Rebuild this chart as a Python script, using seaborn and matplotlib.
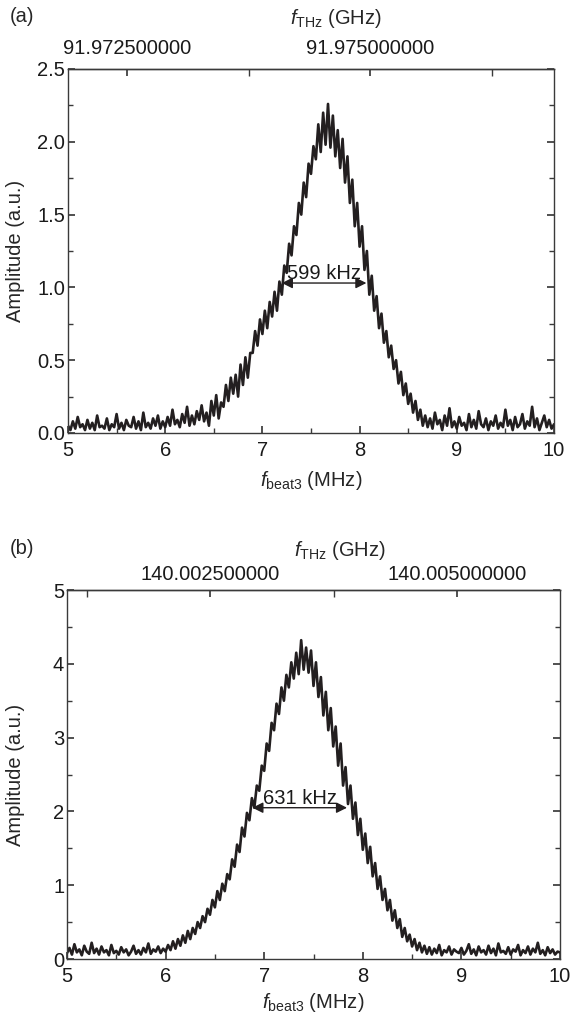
import numpy as np
import pandas as pd
import seaborn as sns
import matplotlib
matplotlib.use("Agg")
import matplotlib.pyplot as plt
from matplotlib.ticker import FixedLocator, FormatStrFormatter, MultipleLocator

# ---------------- data ----------------
freq_mhz = np.round(np.arange(5.0, 10.0001, 0.025), 3)   # beat frequency grid, 201 samples

amp_a = [
    0.05, 0.02, 0.08, 0.03, 0.11, 0.04, 0.06, 0.02, 0.09, 0.03,
    0.07, 0.02, 0.12, 0.04, 0.05, 0.03, 0.10, 0.02, 0.06, 0.04,
    0.13, 0.03, 0.07, 0.02, 0.09, 0.05, 0.04, 0.11, 0.03, 0.08,
    0.02, 0.14, 0.04, 0.07, 0.03, 0.10, 0.05, 0.12, 0.03, 0.08,
    0.04, 0.11, 0.05, 0.16, 0.06, 0.09, 0.04, 0.13, 0.07, 0.18, 0.05, 0.12,
    0.06, 0.15, 0.09, 0.19, 0.08, 0.14, 0.05, 0.22, 0.12, 0.26, 0.10, 0.21,
    0.18, 0.33, 0.22, 0.38, 0.27, 0.40, 0.25, 0.47, 0.33, 0.52, 0.38, 0.55,
    0.55, 0.70, 0.60, 0.78, 0.68, 0.84, 0.72, 0.90, 0.80, 0.97, 0.84, 1.04,
    0.95, 1.15, 1.10, 1.30, 1.22, 1.42, 1.36, 1.58, 1.50, 1.72, 1.62, 1.85,
    1.78, 1.97, 1.88, 2.12, 1.93, 2.20, 1.98, 2.26, 1.96, 2.18, 1.90, 2.08,
    1.82, 2.02, 1.72, 1.90, 1.58, 1.74, 1.42, 1.58, 1.28, 1.42, 1.12, 1.25,
    0.95, 1.08, 0.84, 0.94, 0.72, 0.82, 0.62, 0.70, 0.52, 0.60, 0.44, 0.50,
    0.34, 0.42, 0.26, 0.34, 0.20, 0.27, 0.14, 0.22, 0.09, 0.16, 0.05, 0.12,
    0.04, 0.10, 0.03, 0.14, 0.06, 0.09, 0.02, 0.12, 0.05, 0.17, 0.04, 0.08,
    0.03, 0.11, 0.05, 0.07, 0.02, 0.13, 0.04, 0.09, 0.03, 0.15,
    0.06, 0.04, 0.10, 0.02, 0.08, 0.05, 0.12, 0.03, 0.07, 0.04,
    0.16, 0.05, 0.09, 0.02, 0.11, 0.04, 0.06, 0.13, 0.03, 0.08,
    0.05, 0.18, 0.04, 0.10, 0.02, 0.07, 0.12, 0.04, 0.09, 0.03,
    0.06,
]

amp_b = [
    0.08, 0.15, 0.06, 0.20, 0.09, 0.13, 0.05, 0.18, 0.10, 0.07,
    0.22, 0.08, 0.14, 0.06, 0.17, 0.09, 0.12, 0.05, 0.19, 0.08,
    0.11, 0.06, 0.16, 0.09, 0.13, 0.05, 0.10, 0.18, 0.07, 0.12,
    0.06, 0.15, 0.09, 0.21, 0.07, 0.13, 0.10, 0.17, 0.08, 0.14,
    0.10, 0.19, 0.12, 0.24, 0.14, 0.27, 0.18, 0.32, 0.22, 0.38, 0.27, 0.42,
    0.34, 0.50, 0.42, 0.58, 0.50, 0.68, 0.60, 0.80, 0.70, 0.92, 0.80, 1.02,
    0.92, 1.15, 1.08, 1.35, 1.25, 1.55, 1.45, 1.78, 1.66, 1.98, 1.88, 2.18,
    2.05, 2.35, 2.28, 2.62, 2.55, 2.92, 2.82, 3.20, 3.10, 3.46, 3.32, 3.68,
    3.50, 3.85, 3.68, 4.02, 3.80, 4.15, 3.86, 4.32, 3.92, 4.22, 3.88, 4.18,
    3.70, 4.02, 3.55, 3.82, 3.30, 3.62, 3.10, 3.40, 2.88, 3.15, 2.62, 2.92,
    2.35, 2.60, 2.10, 2.35, 1.90, 2.12, 1.68, 1.90, 1.48, 1.70, 1.30, 1.52,
    1.12, 1.30, 0.95, 1.12, 0.80, 0.95, 0.66, 0.80, 0.52, 0.66, 0.42, 0.54,
    0.30, 0.42, 0.24, 0.33, 0.17, 0.27, 0.12, 0.22, 0.09, 0.18, 0.07, 0.16,
    0.06, 0.14, 0.08, 0.19, 0.05, 0.12, 0.09, 0.17, 0.06, 0.13, 0.10, 0.08,
    0.15, 0.06, 0.11, 0.20, 0.07, 0.13, 0.05, 0.17, 0.09, 0.12,
    0.06, 0.18, 0.08, 0.14, 0.05, 0.21, 0.09, 0.11, 0.07, 0.16,
    0.06, 0.13, 0.10, 0.19, 0.05, 0.12, 0.08, 0.17, 0.06, 0.14,
    0.09, 0.22, 0.07, 0.12, 0.05, 0.16, 0.08, 0.13, 0.06, 0.10,
    0.09,
]

# top-axis (THz carrier) reference: f_THz [GHz] at a given beat frequency [MHz]
thz_ref_a = (5.61, 91.9725)
thz_ref_b = (6.455, 140.0025)
thz_ticks_a = [91.9725, 91.975]
thz_minor_a = [91.97375, 91.97625]
thz_ticks_b = [140.0025, 140.005]
thz_minor_b = [140.00125, 140.00375]

fwhm_a = (7.20, 8.07, 1.03, "599 kHz")
fwhm_b = (6.88, 7.84, 2.05, "631 kHz")

# ---------------- style ----------------
sns.set_theme(style="ticks")
plt.rcParams.update({
    "font.family": ["Liberation Sans", "DejaVu Sans"],
    "mathtext.fontset": "custom",
    "mathtext.rm": "Liberation Sans",
    "mathtext.it": "Liberation Sans:italic",
    "font.size": 14.5,
    "axes.edgecolor": "#3a3a3a",
    "axes.linewidth": 1.0,
    "xtick.direction": "in",
    "ytick.direction": "in",
    "xtick.color": "#3a3a3a",
    "ytick.color": "#3a3a3a",
    "xtick.labelcolor": "#1a1a1a",
    "ytick.labelcolor": "#1a1a1a",
    "xtick.major.size": 5,
    "ytick.major.size": 5,
    "xtick.minor.size": 3.5,
    "ytick.minor.size": 3.5,
    "xtick.labelsize": 14.5,
    "ytick.labelsize": 14.5,
})

fig = plt.figure(figsize=(5.77, 10.22), dpi=100)
W, H = 577, 1022
ax_a = fig.add_axes([68 / W, 1 - 433 / H, (554 - 68) / W, (433 - 69) / H])
ax_b = fig.add_axes([67 / W, 1 - 959 / H, (560 - 67) / W, (959 - 590) / H])

line_col = "#231f20"


def draw(ax, amp, ymax, ystep, yminor, yfmt, ref, ticks, minor, fwhm, top_pad, ylab_x):
    df = pd.DataFrame({"freq": freq_mhz, "amp": amp})
    sns.lineplot(data=df, x="freq", y="amp", ax=ax, color=line_col, lw=1.9,
                 estimator=None, sort=False)
    ax.set_xlim(5, 10)
    ax.set_ylim(0, ymax)
    ax.xaxis.set_major_locator(MultipleLocator(1))
    ax.xaxis.set_minor_locator(MultipleLocator(0.5))
    ax.yaxis.set_major_locator(MultipleLocator(ystep))
    ax.yaxis.set_minor_locator(MultipleLocator(yminor))
    ax.yaxis.set_major_formatter(FormatStrFormatter(yfmt))
    ax.tick_params(axis="y", which="both", left=True, right=True, pad=2)
    ax.tick_params(axis="x", which="both", bottom=True, top=False, pad=6)
    ax.set_xlabel("")
    ax.set_ylabel("Amplitude (a.u.)", fontsize=14.5)
    ax.yaxis.set_label_coords(ylab_x, 0.5)

    x0, g0 = ref
    sec = ax.secondary_xaxis("top",
                             functions=(lambda x: g0 + (x - x0) * 1e-3,
                                        lambda g: x0 + (g - g0) * 1e3))
    sec.xaxis.set_major_locator(FixedLocator(ticks))
    sec.xaxis.set_minor_locator(FixedLocator(minor))
    sec.xaxis.set_major_formatter(FormatStrFormatter("%.9f"))
    sec.tick_params(axis="x", which="major", direction="in", length=5, pad=top_pad)
    sec.tick_params(axis="x", which="minor", direction="in", length=5)

    xl, xr, yv, txt = fwhm
    ax.annotate("", xy=(xl, yv), xytext=(xr, yv),
                arrowprops=dict(arrowstyle="<|-|>", color=line_col, lw=1.0,
                                mutation_scale=16, shrinkA=0, shrinkB=0))
    ax.text((xl + xr) / 2, yv, txt, ha="center", va="bottom", fontsize=14.5,
            color="#1a1a1a")


draw(ax_a, amp_a, 2.5, 0.5, 0.25, "%.1f", thz_ref_a, thz_ticks_a, thz_minor_a, fwhm_a, 8,
     (25 - 68) / 486)
draw(ax_b, amp_b, 5, 1, 0.5, "%d", thz_ref_b, thz_ticks_b, thz_minor_b, fwhm_b, 4,
     (25 - 67) / 493)

thz_label = r"$f_{\mathrm{THz}}$ (GHz)"
beat_label = r"$f_{\mathrm{beat3}}$ (MHz)"
fig.text(10 / W, 1 - 17 / H, "(a)", ha="left", va="center", fontsize=14.5)
fig.text(336 / W, 1 - 19 / H, thz_label, ha="center", va="center", fontsize=14.5)
fig.text(311 / W, 1 - 480 / H, beat_label, ha="center", va="center", fontsize=14.5)
fig.text(10 / W, 1 - 548 / H, "(b)", ha="left", va="center", fontsize=14.5)
fig.text(340 / W, 1 - 550 / H, thz_label, ha="center", va="center", fontsize=14.5)
fig.text(313 / W, 1 - 1002 / H, beat_label, ha="center", va="center", fontsize=14.5)

fig.savefig("out.png", dpi=100)
